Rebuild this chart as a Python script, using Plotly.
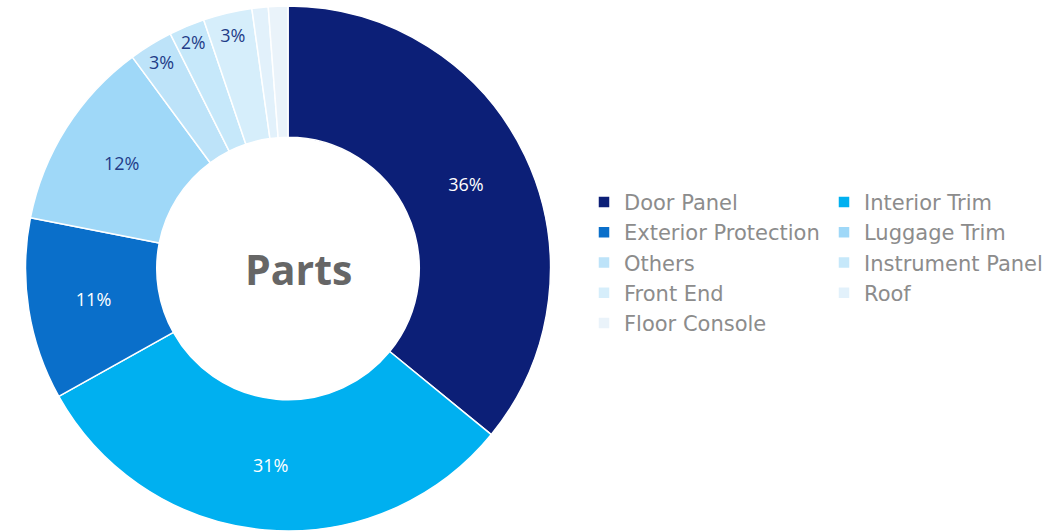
import plotly.graph_objects as go

categories = ["Door Panel", "Interior Trim", "Exterior Protection", "Luggage Trim",
              "Others", "Instrument Panel", "Front End", "Roof", "Floor Console"]
values = [35.9, 31.0, 11.2, 11.8, 2.7, 2.2, 3.0, 1.0, 1.2]
colors = ["#0C1F77", "#00B0F0", "#0A6FCA", "#9FD8F8", "#BDE3F9",
          "#C6E8FA", "#D6EEFB", "#E2F1FB", "#EAF3FA"]
text_colors = ["#FFFFFF", "#FFFFFF", "#FFFFFF", "#1F3C88", "#1F3C88",
               "#1F3C88", "#1F3C88", "#1F3C88", "#1F3C88"]
show_label = [True, True, True, True, True, True, True, False, False]
center_title = "Parts"

W, H = 1055, 531
R_MARGIN = 479
PLOT_W = W - R_MARGIN

fig = go.Figure()
fig.add_trace(go.Pie(
    labels=categories,
    values=values,
    hole=0.5,
    sort=False,
    direction="clockwise",
    rotation=0,
    marker=dict(colors=colors, line=dict(color="#FFFFFF", width=1.5)),
    texttemplate=["%{percent:.0%}" if s else "" for s in show_label],
    textposition="inside",
    insidetextorientation="horizontal",
    textfont=dict(family="Open Sans", size=18, color=text_colors),
    domain=dict(x=[0, 1], y=[0, 1]),
))

fig.update_layout(
    width=W, height=H,
    margin=dict(l=0, r=R_MARGIN, t=6, b=0),
    paper_bgcolor="#FFFFFF",
    plot_bgcolor="#FFFFFF",
    showlegend=True,
    legend=dict(
        orientation="h",
        xref="container",
        x=(598 - 14) / W, xanchor="left",
        y=0.511, yanchor="middle",
        entrywidth=195,
        traceorder="normal",
        bgcolor="rgba(255,255,255,0)",
        font=dict(family="DejaVu Sans", size=21, color="#8C8C8C"),
        itemwidth=30,
    ),
    annotations=[dict(
        text="<b>" + center_title + "</b>", x=298.5 / PLOT_W, y=0.5,
        xref="paper", yref="paper",
        showarrow=False, font=dict(family="Open Sans", size=41, color="#666666"),
        xanchor="center", yanchor="middle",
    )],
)

fig.write_html("out.html")
